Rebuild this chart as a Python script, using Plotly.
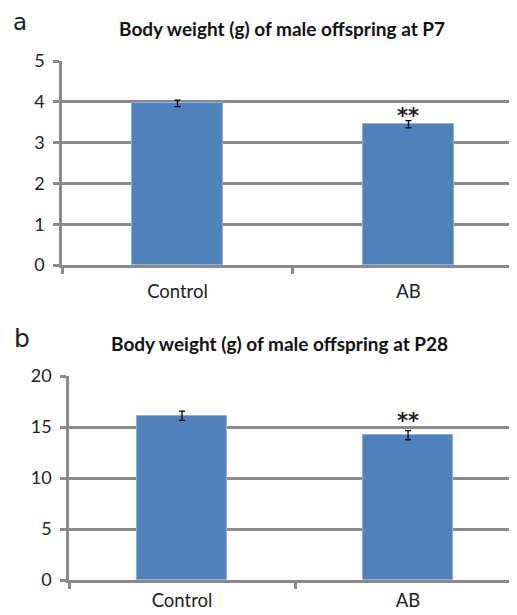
import plotly.graph_objects as go

categories = ["Control", "AB"]
p7_values = [3.96, 3.45]
p7_errors = [0.08, 0.09]
p28_values = [16.1, 14.2]
p28_errors = [0.45, 0.45]
p7_title = "Body weight (g) of male offspring at P7"
p28_title = "Body weight (g) of male offspring at P28"
sig_label = "**"

BAR = "#4F81BD"
GRID = "#8a8a8a"
FONT = "Lato"

# page body has an 8px margin; work in reference pixel coords and convert
W, H, OFF = 509, 607, 8
def px(x):
    return (x - OFF) / W
def py(y):
    return 1 - (y - OFF) / H

fig = go.Figure()
fig.add_trace(go.Bar(x=categories, y=p7_values, width=0.395,
                     marker=dict(color=BAR, line=dict(color="#8fb0d8", width=1)),
                     error_y=dict(type="data", array=p7_errors, color="black", thickness=1.3, width=3),
                     xaxis="x", yaxis="y", showlegend=False))
fig.add_trace(go.Bar(x=categories, y=p28_values, width=0.395,
                     marker=dict(color=BAR, line=dict(color="#8fb0d8", width=1)),
                     error_y=dict(type="data", array=p28_errors, color="black", thickness=1.3, width=3),
                     xaxis="x2", yaxis="y2", showlegend=False))

yax = dict(showgrid=True, gridcolor=GRID, gridwidth=2.5, showline=True, linecolor=GRID, linewidth=2.5,
           ticks="outside", ticklen=6, tickcolor=GRID, tickwidth=2.5, zeroline=False, automargin=False,
           ticklabelstandoff=5,
           tickfont=dict(family=FONT, size=18, color="#222"))
xax = dict(type="category", showgrid=False, showline=True, linecolor=GRID, linewidth=2.5, automargin=False,
           ticks="outside", tickson="boundaries", ticklen=6, tickcolor=GRID, tickwidth=2.5,
           tickfont=dict(family=FONT, size=18.5, color="#222"))

fig.update_layout(
    width=W, height=H,
    margin=dict(l=0, r=0, t=0, b=0),
    paper_bgcolor="white", plot_bgcolor="white",
    bargap=0,
    xaxis=dict(xax, domain=[px(62), 1], range=[-0.5, 1.47], anchor="y", ticklabelstandoff=8),
    yaxis=dict(yax, domain=[py(265), py(61)], range=[0, 5], dtick=1, anchor="x"),
    xaxis2=dict(xax, domain=[px(69), 1], range=[-0.5, 1.482], anchor="y2", ticklabelstandoff=2),
    yaxis2=dict(yax, domain=[py(580), py(376)], range=[0, 20], dtick=5, anchor="x2"),
    annotations=[
        dict(text="<b>" + sig_label + "</b>", x="AB", y=3.65, xref="x", yref="y", showarrow=False,
             yanchor="middle", font=dict(family="DejaVu Sans", size=21, color="#222")),
        dict(text="<b>" + sig_label + "</b>", x="AB", y=15.6, xref="x2", yref="y2", showarrow=False,
             yanchor="middle", font=dict(family="DejaVu Sans", size=21, color="#222")),
        dict(text="<b>" + p7_title + "</b>", x=px(282), y=py(29), xref="paper", yref="paper",
             xanchor="center", yanchor="middle",
             showarrow=False, font=dict(family=FONT, size=19, color="#111")),
        dict(text="<b>" + p28_title + "</b>", x=px(279), y=py(343), xref="paper", yref="paper",
             xanchor="center", yanchor="middle",
             showarrow=False, font=dict(family=FONT, size=19, color="#111")),
        dict(text="a", x=px(12), y=1, xref="paper", yref="paper", xanchor="left", yanchor="top",
             borderpad=0, showarrow=False, font=dict(family="DejaVu Sans", size=23, color="#222")),
        dict(text="b", x=px(12), y=py(338), xref="paper", yref="paper", xanchor="left", yanchor="middle",
             showarrow=False, font=dict(family="DejaVu Sans", size=25, color="#222")),
    ],
)

fig.write_html("out.html")
